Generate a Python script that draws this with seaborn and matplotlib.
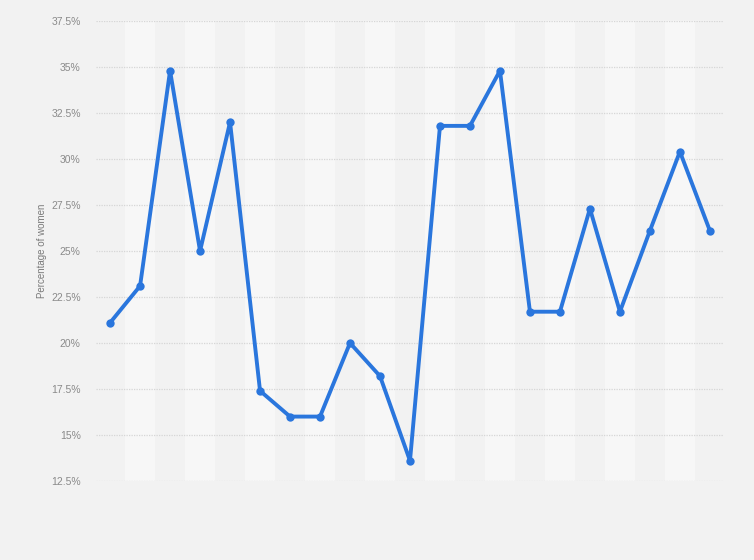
import matplotlib
matplotlib.use("Agg")
import matplotlib.pyplot as plt
import matplotlib.ticker as mticker
import seaborn as sns
import pandas as pd

# share of women, one value per point (x labels are not shown in the chart)
positions = list(range(21))
women_pct = [21.1, 23.1, 34.8, 25.0, 32.0, 17.4, 16.0, 16.0, 20.0, 18.2, 13.6,
             31.8, 31.8, 34.8, 21.7, 21.7, 27.3, 21.7, 26.1, 30.4, 26.1]
y_ticks = [12.5, 15, 17.5, 20, 22.5, 25, 27.5, 30, 32.5, 35, 37.5]

df = pd.DataFrame({"pos": positions, "pct": women_pct})

sns.set_theme(style="white")
plt.rcParams['font.family'] = ['Liberation Sans', 'DejaVu Sans']

bg = "#f2f2f2"
fig = plt.figure(figsize=(7.54, 5.60), dpi=100, facecolor=bg)
ax = fig.add_axes([0.1273, 0.1411, 0.8329, 0.8214])
ax.set_facecolor(bg)

# alternating lighter column bands
for p in positions:
    if p % 2 == 1:
        ax.axvspan(p - 0.5, p + 0.5, color="#f7f7f7", lw=0, zorder=0)

for t in y_ticks:
    ax.axhline(t, color="#d6d6d6", lw=0.9, ls=(0, (1, 1)), zorder=1)

sns.lineplot(data=df, x="pos", y="pct", ax=ax, color="#2a76dd", linewidth=2.8,
             marker="o", markersize=6, markeredgewidth=0, zorder=3)

ax.set_xlim(-0.47, 20.47)
ax.set_ylim(12.5, 37.5)
ax.set_yticks(y_ticks)
ax.yaxis.set_major_formatter(mticker.FuncFormatter(lambda v, _: f"{v:g}%"))
ax.set_xticks([])
ax.set_xlabel("")
ax.set_ylabel("Percentage of women", fontsize=7, color="#7a7a7a")
ax.yaxis.set_label_coords(-0.078, 0.5)
ax.tick_params(axis="y", length=0, pad=11, labelsize=7.5, labelcolor="#8a8a8a")
for s in ax.spines.values():
    s.set_visible(False)

fig.savefig("out.png", dpi=100, facecolor=bg)
